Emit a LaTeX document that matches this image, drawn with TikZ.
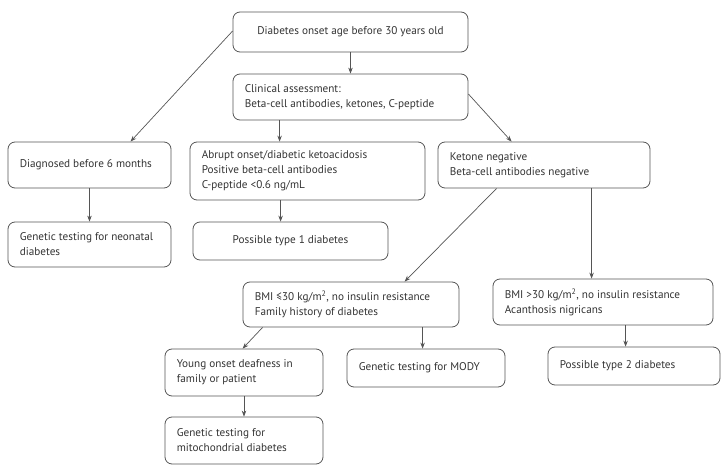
\documentclass[tikz,border=0pt]{standalone}
\usepackage{fontspec}
\setmainfont{PT Sans}
\usetikzlibrary{arrows.meta}
\definecolor{linec}{HTML}{555555}
\definecolor{textc}{HTML}{333333}
\begin{document}
\begin{tikzpicture}[x=1pt,y=-1pt,
  txt/.style={font=\fontsize{11.2}{15}\selectfont, text=textc, inner sep=0pt, align=left, anchor=west},
  ctxt/.style={txt, align=center, anchor=center},
  box/.style={draw=linec, line width=0.8pt, rounded corners=7pt, inner sep=0pt},
  arr/.style={draw=linec, line width=0.7pt, -{Stealth[length=6pt,width=4.5pt]}}]
\useasboundingbox (0,0) rectangle (724,476);
% #1 text style, #2 name, #3 text, #4 left, #5 top, #6 width, #7 height
\newcommand{\bx}[7]{%
  \node[box, minimum width=#6, minimum height=#7] (#2) at (#4+#6/2,#5+#7/2) {};
  \ifx\relax#1\relax
    \node[txt] (#2t) at ([xshift=12pt]#2.west) {#3};
  \else
    \node[ctxt] (#2t) at (#2.center) {#3};
  \fi}
\bx{c}{top}{Diabetes onset age before 30 years old}{233}{12}{235}{40}
\bx{}{clin}{Clinical assessment:\\Beta-cell antibodies, ketones, C-peptide}{233}{74}{235}{46}
\bx{}{diag}{Diagnosed before 6 months}{8}{142}{163}{46}
\bx{}{abr}{Abrupt onset/diabetic ketoacidosis\\Positive beta-cell antibodies\\C-peptide <0.6 ng/mL}{190}{142}{235}{58}
\bx{}{ket}{Ketone negative\\Beta-cell antibodies negative}{438}{142}{212}{46}
\bx{}{neo}{Genetic testing for neonatal\\diabetes}{8}{222}{163}{45}
\bx{c}{t1}{Possible type 1 diabetes}{193}{222}{195}{38}
\bx{}{bmil}{BMI ≤30 kg/m\textsuperscript{2}, no insulin resistance\\Family history of diabetes}{243}{282}{216}{45}
\bx{}{bmih}{BMI >30 kg/m\textsuperscript{2}, no insulin resistance\\Acanthosis nigricans}{493}{279}{220}{46}
\bx{}{young}{Young onset deafness in\\family or patient}{165}{349}{158}{47}
\bx{}{mody}{Genetic testing for MODY}{347}{349}{158}{38}
\bx{}{mito}{Genetic testing for\\mitochondrial diabetes}{165}{417}{158}{47}
\bx{}{t2}{Possible type 2 diabetes}{548}{347}{172}{38}
% connectors
\draw[arr] (top.south) -- (clin.north);
\draw[arr] ([yshift=1pt]top.west) -- ([xshift=41pt]diag.north);
\coordinate (c1) at ([xshift=47pt]clin.south west);
\draw[arr] (c1) -- (c1 |- abr.north);
\draw[arr] ([yshift=3pt]clin.east) -- ([xshift=74pt]ket.north west);
\draw[arr] (diag.south) -- (neo.north);
\coordinate (a1) at ([xshift=91pt]abr.south west);
\draw[arr] (a1) -- (a1 |- t1.north);
\draw[arr] ([xshift=59pt]ket.south west) -- ([xshift=162pt]bmil.north west);
\coordinate (k2) at ([xshift=154pt]ket.south west);
\draw[arr] (k2) -- (k2 |- bmih.north);
\draw[arr] ([xshift=20pt]bmil.south west) -- ([xshift=78pt]young.north west);
\coordinate (b1) at ([xshift=180pt]bmil.south west);
\draw[arr] (b1) -- (b1 |- mody.north);
\draw[arr] (young.south) -- (mito.north);
\coordinate (h1) at ([xshift=133pt]bmih.south west);
\draw[arr] (h1) -- (h1 |- t2.north);
\end{tikzpicture}
\end{document}
